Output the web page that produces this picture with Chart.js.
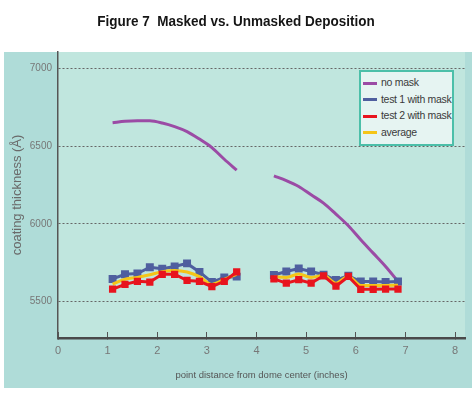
<!DOCTYPE html>
<html>
<head>
<meta charset="utf-8">
<script src="https://cdn.jsdelivr.net/npm/chart.js@4/dist/chart.umd.min.js"></script>
<style>
  body { margin: 0; background: #fff; }
  #wrap { position: relative; width: 472px; height: 395px; }
  #title {
    position: absolute; left: 0; top: 12px; width: 472px; text-align: center;
    font: bold 15px "Liberation Sans", Arial, sans-serif; color: #151515;
    transform: scaleX(0.9); transform-origin: 236px 0;
  }
  #legend {
    position: absolute; left: 359px; top: 70px; width: 95px; height: 76px;
    box-sizing: border-box; border: 2px solid #4cbfa9; background: #e6f4f2;
    padding: 2px 0 0 2px;
    font: 10.5px "Liberation Sans", Arial, sans-serif; color: #3a3a3a; letter-spacing: -0.3px;
  }
  #legend div { height: 16.5px; line-height: 16.5px; white-space: nowrap; }
  #legend span.sw { display: inline-block; width: 14px; height: 3px; vertical-align: middle; margin-right: 4px; }
</style>
</head>
<body>
<div id="wrap">
  <canvas id="chart" width="472" height="395"></canvas>
  <div id="title">Figure 7&nbsp; Masked vs. Unmasked Deposition</div>
  <div id="legend"></div>
</div>
<script>
// point positions (inches from dome center), two runs of measurements
const xNear = [1.1, 1.35, 1.6, 1.85, 2.1, 2.35, 2.6, 2.85, 3.1, 3.35, 3.6];
const xFar = [4.35, 4.6, 4.85, 5.1, 5.35, 5.6, 5.85, 6.1, 6.35, 6.6, 6.85];

const noMaskNear = [6650, 6660, 6663, 6662, 6648, 6625, 6593, 6545, 6490, 6415, 6345];
const noMaskFar = [6308, 6278, 6240, 6186, 6133, 6062, 5987, 5897, 5811, 5725, 5629];

const test1Near = [5645, 5675, 5680, 5720, 5710, 5725, 5745, 5690, 5625, 5655, 5660];
const test1Far = [5670, 5693, 5712, 5693, 5672, 5638, 5665, 5628, 5628, 5625, 5628];

const test2Near = [5580, 5610, 5630, 5625, 5675, 5675, 5635, 5630, 5595, 5630, 5690];
const test2Far = [5645, 5618, 5640, 5618, 5665, 5598, 5661, 5578, 5578, 5580, 5580];

const avgNear = [5612, 5643, 5655, 5672, 5692, 5700, 5690, 5660, 5610, 5642, 5675];
const avgFar = [5658, 5655, 5676, 5655, 5668, 5618, 5663, 5603, 5603, 5603, 5604];

const xTicks = [0, 1, 2, 3, 4, 5, 6, 7, 8];
const yTicks = [5500, 6000, 6500, 7000];

const FONT = "'Liberation Sans', Arial, sans-serif";

// join the two runs with a gap between them
function twoRuns(near, far) {
  const pts = xNear.map((x, i) => ({ x: x, y: near[i] }));
  pts.push({ x: 4.0, y: null });
  return pts.concat(xFar.map((x, i) => ({ x: x, y: far[i] })));
}

// panel backgrounds
const panelBg = {
  id: "panelBg",
  beforeDraw(chart) {
    const ctx = chart.ctx;
    const a = chart.chartArea;
    ctx.save();
    ctx.fillStyle = "#afdcd8";
    ctx.fillRect(4, 52, 468, 336);
    ctx.fillStyle = "#c0e6de";
    ctx.fillRect(a.left, a.top, a.right - a.left, a.bottom - a.top);
    ctx.restore();
  }
};

const chart = new Chart(document.getElementById("chart"), {
  type: "line",
  data: {
    datasets: [
      {
        label: "no mask",
        data: twoRuns(noMaskNear, noMaskFar),
        borderColor: "#9b4ba5",
        backgroundColor: "#a863b8",
        borderWidth: 3,
        pointRadius: 0,
        cubicInterpolationMode: "monotone",
        order: 3
      },
      {
        label: "test 1 with mask",
        data: twoRuns(test1Near, test1Far),
        borderColor: "#4f5f9f",
        backgroundColor: "#4f5f9f",
        borderWidth: 3,
        pointStyle: "rect",
        pointRadius: 3.5,
        order: 2
      },
      {
        label: "test 2 with mask",
        data: twoRuns(test2Near, test2Far),
        borderColor: "#e8141e",
        backgroundColor: "#e8141e",
        borderWidth: 3,
        pointStyle: "rect",
        pointRadius: 3,
        order: 0
      },
      {
        label: "average",
        data: twoRuns(avgNear, avgFar),
        borderColor: "#f5c518",
        backgroundColor: "#f5c518",
        borderWidth: 3,
        pointRadius: 0,
        cubicInterpolationMode: "monotone",
        order: 1
      }
    ]
  },
  options: {
    responsive: false,
    animation: false,
    devicePixelRatio: 1,
    layout: { padding: { left: 4, right: 5, top: 52, bottom: 7 } },
    plugins: {
      legend: { display: false },
      tooltip: { enabled: false }
    },
    scales: {
      x: {
        type: "linear",
        min: 0,
        max: 8.2,
        afterBuildTicks: (axis) => { axis.ticks = xTicks.map(v => ({ value: v })); },
        afterFit: (axis) => { axis.height = 50; },
        ticks: {
          color: "#777", font: { family: FONT, size: 11 }, padding: 12, maxRotation: 0,
          callback: (v) => String(v)
        },
        grid: { drawOnChartArea: false, drawTicks: true, tickLength: -6, color: "#555", lineWidth: 1 },
        border: { display: true, color: "#4a4a4a", width: 2.5 },
        title: {
          display: true,
          text: "point distance from dome center (inches)",
          color: "#555",
          font: { family: FONT, size: 9.5 },
          padding: { top: 0, bottom: 7 }
        }
      },
      y: {
        type: "linear",
        min: 5265,
        max: 7105,
        afterBuildTicks: (axis) => { axis.ticks = yTicks.map(v => ({ value: v })); },
        afterFit: (axis) => { axis.width = 54; },
        ticks: {
          color: "#777", font: { family: FONT, size: 10 }, padding: 6,
          callback: (v) => String(v)
        },
        grid: { drawTicks: false, color: "#666", lineWidth: 1 },
        border: { display: true, color: "#555", width: 1.5, dash: [2, 2] },
        title: {
          display: true,
          text: "coating thickness (Å)",
          color: "#6a6a6a",
          font: { family: FONT, size: 13 },
          padding: { top: 6, bottom: 0 }
        }
      }
    }
  },
  plugins: [panelBg]
});

// legend box inside the plot, in dataset order
const legendDiv = document.getElementById("legend");
chart.data.datasets.forEach(ds => {
  const row = document.createElement("div");
  const sw = document.createElement("span");
  sw.className = "sw";
  sw.style.background = ds.borderColor;
  row.appendChild(sw);
  row.appendChild(document.createTextNode(ds.label));
  legendDiv.appendChild(row);
});
</script>
</body>
</html>
